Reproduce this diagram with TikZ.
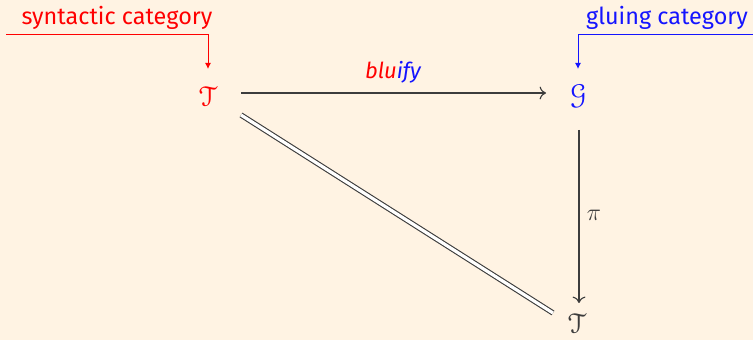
\documentclass[tikz,border=0pt]{standalone}
\usepackage{fontspec}
\setmainfont{Fira Sans}
\usepackage{amsmath}
\usepackage[mathcal]{eucal}
\usetikzlibrary{arrows.meta}
\definecolor{bgcream}{RGB}{255,243,227}
\definecolor{arrgray}{RGB}{60,60,60}
\definecolor{lblue}{RGB}{20,20,255}
\begin{document}
\begin{tikzpicture}[x=0.5pt,y=-0.5pt,
  obj/.style={inner sep=0pt,font=\Large},
  morph/.style={draw=arrgray,line width=0.55pt,-{To[length=3.2pt,width=6.5pt]}},
  eqline/.style={draw=arrgray,line width=0.55pt,double=white,double distance=1.6pt},
  callout/.style={line width=0.5pt,-{Latex[length=3pt,width=3pt]}},
  lbl/.style={inner sep=0pt,font=\fontsize{11.7}{13}\selectfont}]
\fill[bgcream] (0,0) rectangle (753,340);
\useasboundingbox (0,0) rectangle (753,340);
\node[obj,text=red] (T1) at (208,96) {$\mathcal{T}$};
\node[obj,text=lblue] (G) at (578,96) {$\mathcal{G}$};
\node[obj,text=arrgray] (T2) at (577,323) {$\mathcal{T}$};
\draw[morph] (241,93) coordinate (h1) -- (546,93) coordinate (h2);
\node[inner sep=0pt,font=\itshape\fontsize{11}{13}\selectfont] (bl) at (393,72) {\textcolor{red}{blu}\textcolor{lblue}{ify}};
\draw[morph] (579,130) coordinate (v1) -- (579,303) coordinate (v2);
\node[inner sep=0pt,font=\large,text=arrgray] (pi) at (594,215) {$\pi$};
\draw[eqline] (241,115) coordinate (d1) -- (553,313) coordinate (d2);
\node[lbl,text=red] (syn) at (117,18) {syntactic category};
\node[lbl,text=lblue] (glu) at (667,18) {gluing category};
\coordinate (s0) at (6,35);
\coordinate (s1) at (208,35);
\coordinate (s2) at (208,69);
\draw[callout,red] (s0) -- (s1) -- (s2);
\coordinate (g0) at (753,35);
\coordinate (g1) at (578,35);
\coordinate (g2) at (578,69);
\draw[callout,lblue] (g0) -- (g1) -- (g2);
\end{tikzpicture}
\end{document}
